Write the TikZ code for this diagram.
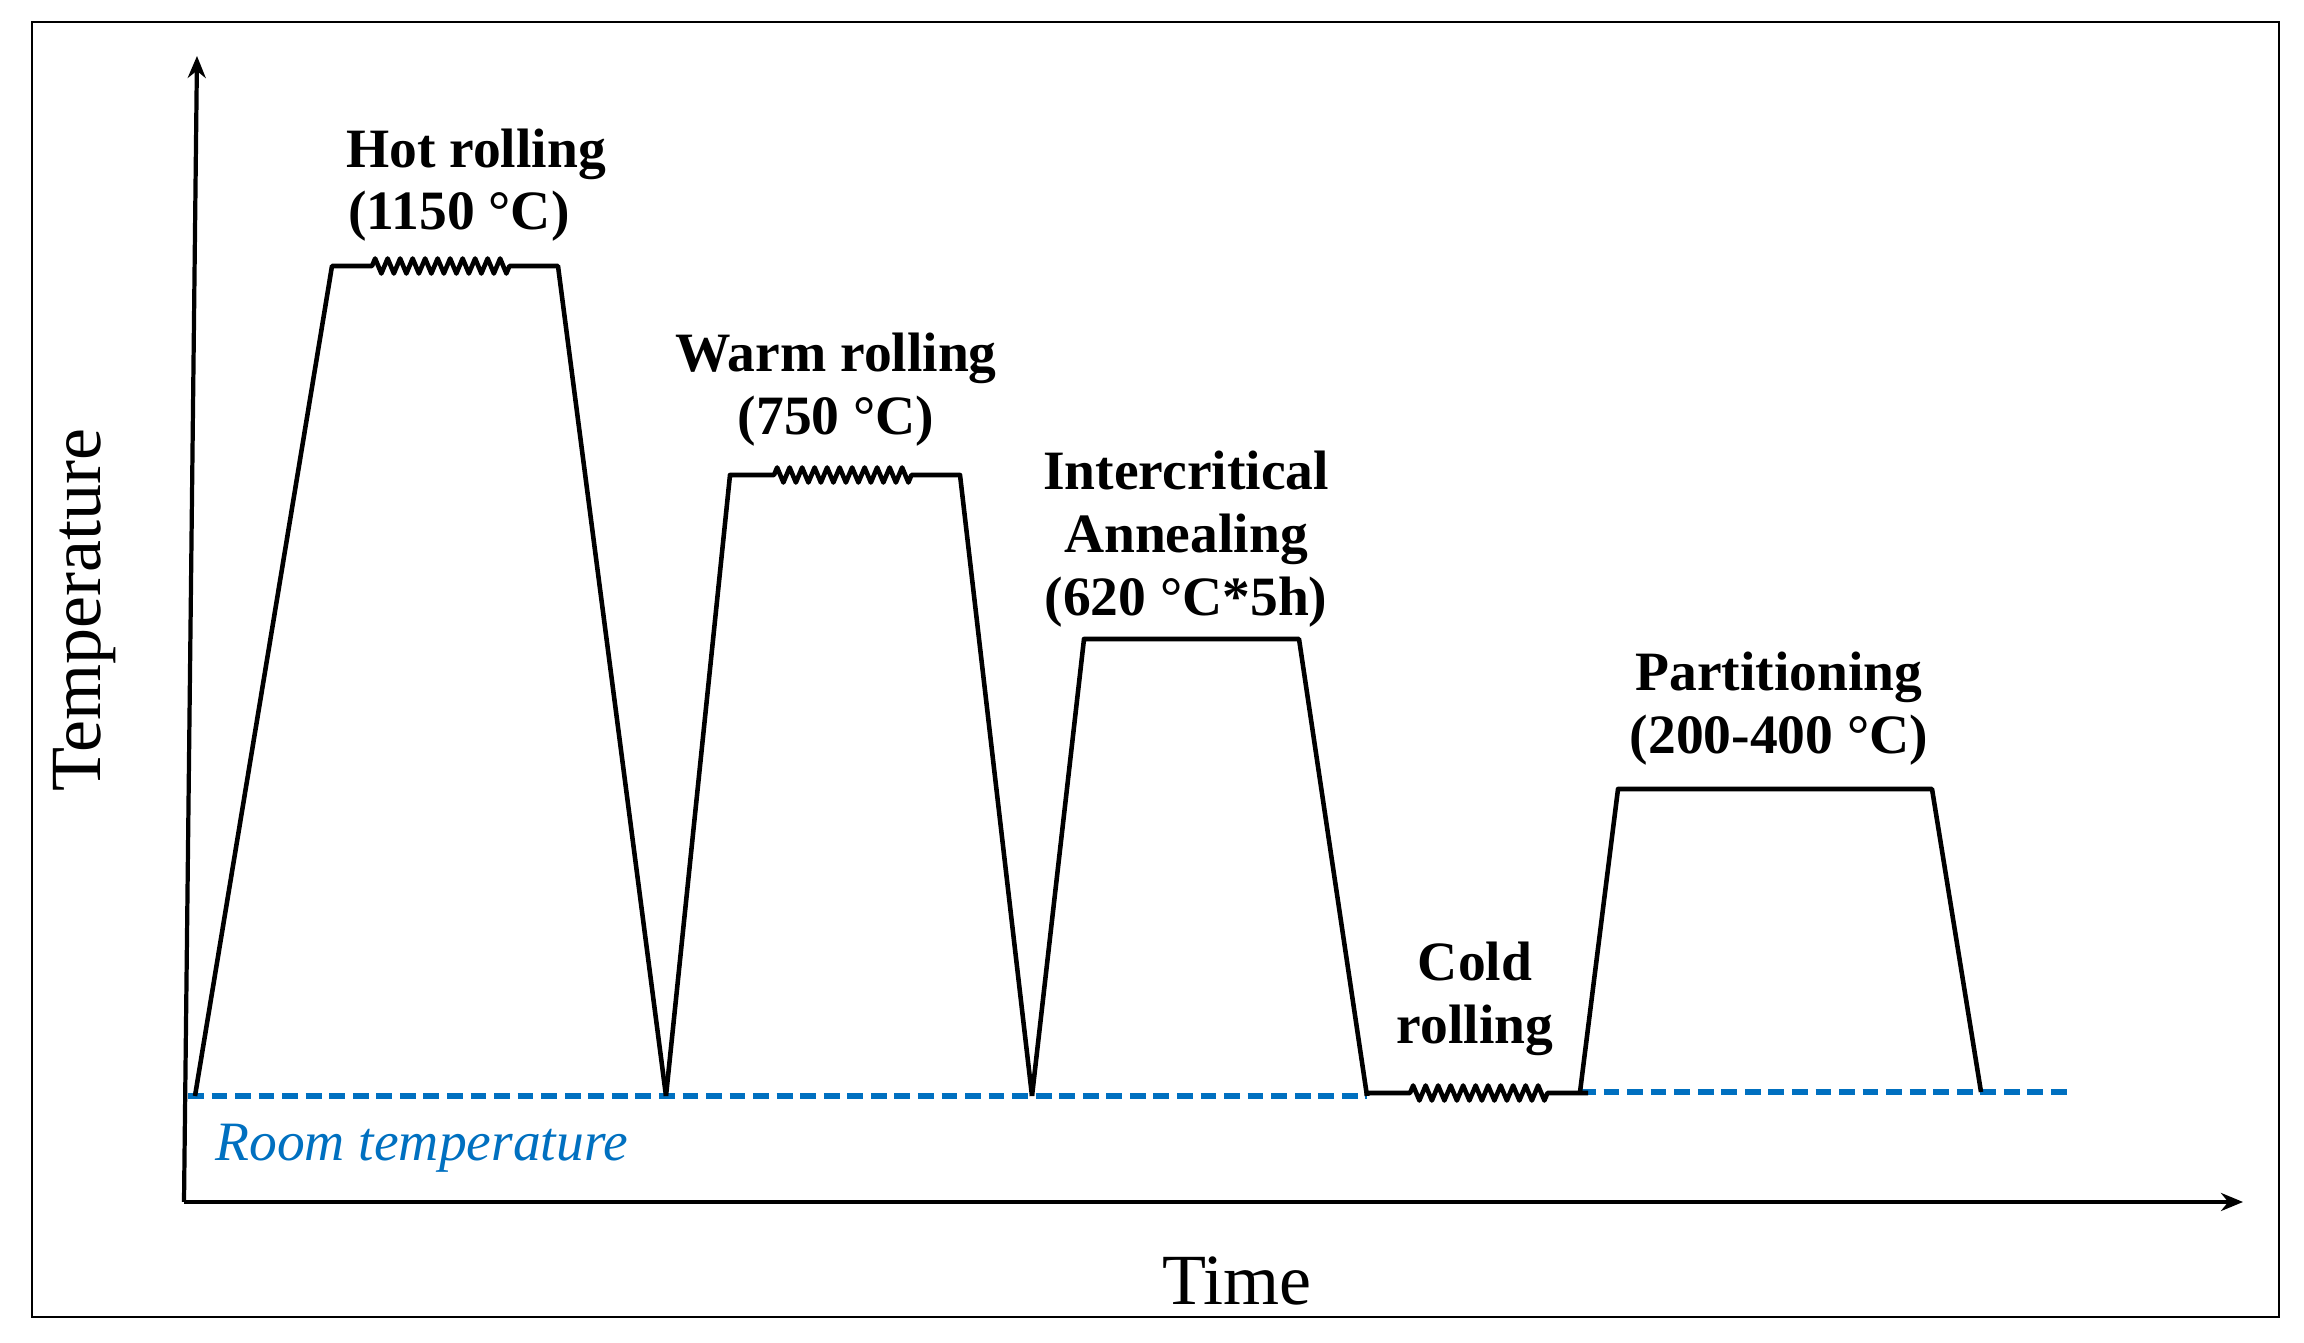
\documentclass[tikz,border=0pt]{standalone}
\usepackage{fontspec}
\setmainfont{Liberation Serif}
\usetikzlibrary{arrows.meta,decorations.pathmorphing}
\definecolor{rtblue}{HTML}{0070C0}
\tikzset{
    axis/.style={line width=1.2pt, -{Stealth[length=0.22cm,width=0.18cm]}},
    cycle/.style={line width=1.3pt, line join=round},
    zz/.style={decoration={zigzag, segment length=0.125cm, amplitude=0.075cm}},
    roomline/.style={rtblue, line width=1.6pt, dash pattern=on 4.5pt off 2.2pt},
    stage/.style={font=\fontsize{15.8}{18}\selectfont\bfseries, align=center},
    axlabel/.style={font=\fontsize{20.5}{24}\selectfont}
}
\begin{document}
\begin{tikzpicture}
    \useasboundingbox (0,0) rectangle (23.04,13.43);
    \draw[line width=0.8pt] (0.32,0.26) rectangle (22.79,13.21);

    \coordinate (O) at (1.84,1.41);
    \coordinate (Ytop) at (1.97,12.87);
    \coordinate (Xend) at (22.43,1.41);
    \draw[axis] (O) -- (Ytop);
    \draw[axis] (O) -- (Xend);

    \coordinate (R1) at (1.88,2.47);
    \coordinate (R2) at (13.67,2.47);
    \coordinate (R3) at (15.80,2.51);
    \coordinate (R4) at (20.72,2.51);
    \draw[roomline] (R1) -- (R2);
    \draw[roomline] (R3) -- (R4);

    \coordinate (H1) at (1.95,2.47);
    \coordinate (H2) at (3.32,10.77);
    \coordinate (H3) at (5.58,10.77);
    \coordinate (H4) at (6.66,2.47);
    \draw[cycle] (H1) -- (H2) -- (3.72,10.77)
        decorate[zz] {-- (5.13,10.77)} -- (H3) -- (H4);

    \coordinate (W2) at (7.30,8.68);
    \coordinate (W3) at (9.60,8.68);
    \coordinate (W4) at (10.32,2.47);
    \draw[cycle] (H4) -- (W2) -- (7.74,8.68)
        decorate[zz] {-- (9.14,8.68)} -- (W3) -- (W4);

    \coordinate (I2) at (10.84,7.04);
    \coordinate (I3) at (12.99,7.04);
    \coordinate (I4) at (13.67,2.47);
    \draw[cycle] (W4) -- (I2) -- (I3) -- (I4);

    \coordinate (C1) at (13.67,2.50);
    \coordinate (C2) at (15.88,2.50);
    \draw[cycle] (I4) -- (C1) -- (14.10,2.50)
        decorate[zz] {-- (15.48,2.50)} -- (C2);

    \coordinate (P1) at (15.80,2.51);
    \coordinate (P2) at (16.18,5.54);
    \coordinate (P3) at (19.32,5.54);
    \coordinate (P4) at (19.81,2.51);
    \draw[cycle] (P1) -- (P2) -- (P3) -- (P4);

    \node[stage] (H) at (4.76,11.89) {Hot rolling};
    \node[stage] (Ht) at (4.59,11.27) {(1150 °C)};
    \node[stage] (W) at (8.36,9.53) {Warm rolling\\(750 °C)};
    \node[stage] (I) at (11.86,8.04) {Intercritical\\Annealing\\(620 °C*5h)};
    \node[stage] (C) at (14.75,3.44) {Cold\\rolling};
    \node[stage] (P) at (17.79,6.34) {Partitioning\\(200-400 °C)};

    \node[rtblue, anchor=west, font=\fontsize{15.8}{18}\selectfont\itshape] (RT)
        at (2.03,1.95) {Room temperature};
    \node[axlabel, rotate=90] (T) at (0.85,7.33) {Temperature};
    \node[axlabel] (Tm) at (12.37,0.62) {Time};
\end{tikzpicture}
\end{document}
